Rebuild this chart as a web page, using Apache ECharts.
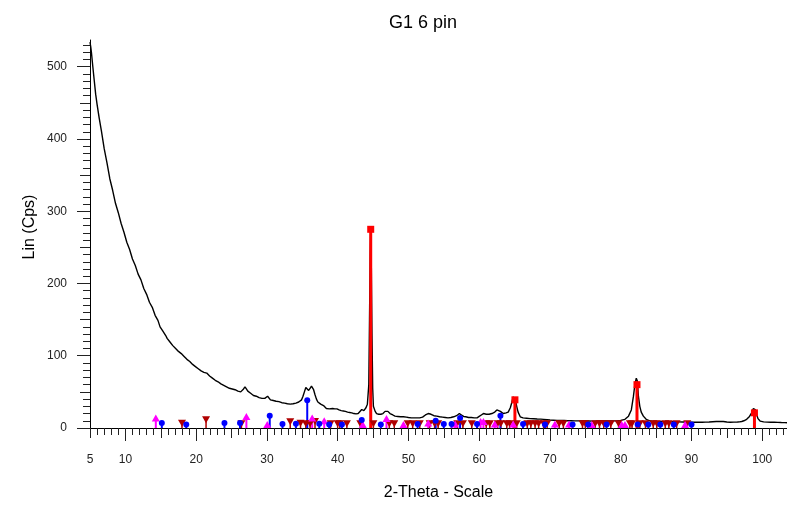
<!DOCTYPE html>
<html>
<head>
<meta charset="utf-8">
<script src="https://cdn.jsdelivr.net/npm/echarts@6/dist/echarts.min.js"></script>
<style>
  html, body { margin: 0; padding: 0; background: #fff; }
  #chart { width: 787px; height: 506px; }
</style>
</head>
<body>
<div id="chart"></div>
<script>
// Measured diffraction pattern: 2-theta (deg) and intensity (counts per second)
const theta = [
  5.0, 5.1, 5.2, 5.4, 5.6, 5.8, 6.0, 6.3, 6.6, 7.0, 7.4, 7.8, 8.2, 8.6, 9.0, 9.4, 9.8,
  10.2, 10.6, 11.0, 11.4, 11.8, 12.2, 12.6, 13.0, 13.4, 13.8, 14.2, 14.6, 14.9, 15.1, 15.3,
  15.5, 15.7, 15.9, 16.1, 16.3, 16.5, 16.7, 16.9, 17.1, 17.3, 17.5, 17.7, 17.9, 18.1, 18.3,
  18.5, 18.7, 18.9, 19.1, 19.3, 19.5, 19.7, 19.9, 20.1, 20.3, 20.5, 20.7, 20.9, 21.1, 21.3,
  21.5, 21.7, 21.9, 22.1, 22.3, 22.5, 22.7, 22.9, 23.1, 23.3, 23.5, 23.7, 23.9, 24.1, 24.3,
  24.5, 24.7, 24.9, 25.1, 25.3, 25.5, 25.7, 25.9, 26.1, 26.3, 26.5, 26.7, 26.9, 27.1, 27.3,
  27.5, 27.7, 27.9, 28.1, 28.3, 28.5, 28.7, 28.9, 29.1, 29.3, 29.5, 29.7, 29.9, 30.1, 30.3,
  30.5, 30.7, 30.9, 31.1, 31.3, 31.5, 31.7, 31.9, 32.1, 32.3, 32.5, 32.7, 32.9, 33.1, 33.3,
  33.5, 33.7, 33.9, 34.1, 34.3, 34.5, 34.7, 34.9, 35.1, 35.3, 35.5, 35.7, 35.9, 36.1, 36.3,
  36.4, 36.6, 36.8, 37.0, 37.2, 37.4, 37.6, 37.8, 38.0, 38.2, 38.4, 38.6, 38.8, 39.0, 39.3,
  39.6, 39.9, 40.2, 40.5, 40.8, 41.1, 41.4, 41.7, 42.0, 42.3, 42.6, 42.9, 43.1, 43.4, 43.7,
  44.0, 44.2, 44.4, 44.5, 44.6, 44.67, 44.75, 44.85, 44.95, 45.05, 45.3, 45.5, 45.8, 46.1,
  46.4, 46.7, 46.9, 47.1, 47.4, 47.8, 48.1, 48.5, 48.9, 49.3, 49.7, 50.0, 50.4, 50.8, 51.2,
  51.6, 52.0, 52.4, 52.8, 53.2, 53.6, 54.0, 54.4, 54.8, 55.2, 55.6, 56.0, 56.4, 56.8, 57.0,
  57.2, 57.5, 57.8, 58.1, 58.5, 58.9, 59.3, 59.7, 60.0, 60.3, 60.6, 61.0, 61.4, 61.8, 62.2,
  62.5, 62.7, 63.0, 63.4, 63.8, 64.1, 64.4, 64.6, 64.8, 64.9, 65.05, 65.2, 65.3, 65.5, 65.8,
  66.2, 66.7, 67.2, 67.7, 68.2, 68.7, 69.1, 69.6, 70.0, 70.5, 71.0, 71.5, 72.0, 72.5, 73.0,
  73.5, 74.0, 74.5, 75.0, 75.5, 76.0, 76.5, 77.0, 77.5, 78.0, 78.5, 79.0, 79.4, 80.0, 80.6,
  81.1, 81.5, 81.8, 82.0, 82.2, 82.35, 82.5, 82.7, 82.9, 83.2, 83.6, 84.2, 84.7, 85.2, 85.7,
  86.2, 86.7, 87.2, 87.7, 88.2, 88.7, 89.2, 89.7, 90.3, 90.9, 91.5, 92.0, 92.5, 93.0, 93.5,
  94.0, 94.5, 95.0, 95.5, 96.0, 96.5, 96.8, 97.1, 97.4, 97.8, 98.2, 98.5, 98.75, 98.9, 99.05,
  99.2, 99.4, 99.7, 100.2, 100.7, 101.2, 101.7, 102.2, 102.7, 103.2, 103.5
];
const counts = [
  534, 528, 520, 500, 481, 462, 448, 429, 412, 387, 367, 345, 329, 311, 298, 283, 271,
  257, 247, 234, 225, 213, 205, 193, 185, 174, 167, 156, 149, 140, 138, 134,
  131, 128, 124, 122, 119, 118, 114, 113, 110, 110, 106, 105, 103, 102, 99,
  98, 95, 94, 92, 90, 88, 86, 85, 83, 82, 80, 79, 78, 77, 79,
  76, 74, 72, 71, 69, 67, 66, 64, 64, 62, 61, 60, 59, 58, 57,
  57, 55, 55, 54, 53, 53, 52, 51, 51, 50, 52, 54, 57, 54, 51,
  49, 48, 46, 45, 45, 44, 43, 42, 42, 41, 41.5, 41, 42, 44, 43,
  39, 38, 38, 37, 37, 36, 36.5, 36, 35, 34, 34.5, 33.5, 33.5, 33, 33,
  34, 33.5, 34, 34.5, 35, 36, 37, 39, 44, 50, 56, 54, 52, 55, 58,
  60, 53, 46, 40, 36, 34, 33, 32, 31, 29, 27, 26, 26.5, 26, 27,
  26.5, 26.5, 25, 24, 23.5, 23, 22, 21.5, 21, 20, 19.6, 20, 22, 25.6, 24,
  28, 33, 60, 150, 240, 275, 230, 130, 55, 30, 23, 20, 19, 19,
  20, 23, 25.6, 23, 20, 18, 16.4, 16, 15.5, 15.5, 15, 14.5, 14, 14, 14,
  14, 15, 18, 20, 19, 17, 16.4, 15.5, 15, 14.5, 14, 14.5, 15.5, 17, 19,
  20, 18, 16, 15.5, 14.5, 14.5, 14, 14, 16, 18, 20, 19, 19, 20, 22,
  25, 25.6, 23, 20, 21, 22, 28, 35, 43, 45, 42, 35, 30, 22, 15.5,
  14, 13.5, 13, 12.8, 12.5, 12.3, 12, 11.5, 11, 10.8, 10.5, 10.5, 10.3, 10, 10,
  9.8, 9.8, 9.6, 9.6, 9.6, 9.5, 9.4, 9.6, 9.6, 9.6, 9.7, 9.8, 9.8, 10.5, 12,
  16.4, 25, 44, 60, 69, 65, 44, 30, 22, 16.4, 12, 9.6, 9.2, 9, 8.9,
  8.8, 8.7, 8.6, 8.5, 8.5, 8.4, 8.3, 8.2, 8, 8, 8, 8.2, 8.3, 8.7, 9,
  9.2, 9, 8.4, 8, 8.2, 8.3, 8.5, 9, 10, 12, 16, 21, 27, 28, 25,
  19, 13, 9.6, 8.5, 8.2, 8, 7.9, 7.8, 7.6, 7.5, 7.3
];

// Reference patterns: peak position (2-theta) and relative height
const phaseRedPos = [44.67, 65.05, 82.3, 98.9];
const phaseRedHeight = [275, 39, 60, 21];

const phaseBluePos = [15.15, 18.6, 24.0, 26.2, 30.4, 32.2, 34.1, 35.7, 37.4, 38.8, 40.6, 43.4,
  46.1, 51.3, 53.85, 55.0, 56.1, 57.3, 59.7, 63.0, 66.2, 69.3, 73.2, 75.4, 78.0, 82.4,
  83.9, 85.6, 87.5, 90.0];
const phaseBlueHeight = [7, 5, 7, 7, 17, 5.5, 6, 38.5, 6, 5, 5, 11,
  5, 5.5, 10, 5.5, 5.5, 13.7, 5.5, 17, 5.5, 5, 5, 5, 5, 5,
  5, 5, 5, 5];

const phaseMagentaPos = [14.3, 27.1, 30.05, 36.4, 38.1, 43.55, 46.9, 49.3, 52.8, 56.6, 60.2,
  60.6, 62.2, 64.8, 70.7, 72.7, 75.9, 80.15, 80.6, 89.1];
const phaseMagentaHeight = [14, 16, 5, 14, 10, 5, 13, 5, 7, 5.5, 9,
  9, 5.5, 5.5, 5.5, 5.5, 5, 5, 5, 5];

const phaseDarkRedPos = [18.0, 21.4, 26.4, 33.3, 34.75, 35.5, 36.1, 36.8, 39.0, 40.0, 40.3, 41.3,
  43.2, 45.05, 47.3, 48.0, 49.9, 50.6, 51.6, 53.0, 53.7, 54.2, 56.9, 57.7, 58.95, 61.0,
  61.5, 62.6, 63.05, 63.9, 64.3, 65.3, 66.8, 67.3, 67.9, 68.4, 69.1, 69.6, 71.3, 71.9,
  74.6, 75.0, 76.4, 77.0, 77.6, 78.6, 79.7, 81.3, 81.6, 82.7, 83.5, 84.6, 85.1, 86.3,
  86.8, 87.9, 89.4];
const phaseDarkRedHeight = [6.5, 11.5, 6, 8.5, 6.5, 6, 6, 9, 6, 6, 6, 6,
  6, 6, 6, 6, 6, 6, 6, 6, 6, 6, 6, 6, 6, 6,
  6, 6, 6, 6, 6, 6, 6, 6, 6, 6, 6, 6, 6, 6,
  6, 6, 6, 6, 6, 6, 6, 6, 6, 6, 6, 6, 6, 6,
  6, 6, 6];

// Axis labels
const xLabelValues = [5, 10, 20, 30, 40, 50, 60, 70, 80, 90, 100];
const yLabelValues = [0, 100, 200, 300, 400, 500];

const X_MIN = 5, X_MAX = 103.5, Y_MIN = 0, Y_MAX = 537;
const FONT = 'Liberation Sans, Arial, sans-serif';

function range(from, to, step, skipEvery) {
  const out = [];
  for (let v = from; v <= to + 1e-9; v += step) {
    const r = Math.round(v * 1000) / 1000;
    if (skipEvery && Math.abs(r / skipEvery - Math.round(r / skipEvery)) < 1e-9) continue;
    out.push(r);
  }
  return out;
}

// Tick positions: long at tens/hundreds, medium at fives/fifties, short otherwise
const xLong = range(10, 100, 10);
const xMid = range(5, 95, 10);
const xShort = range(6, 103, 1, 5);
const yLong = range(0, 500, 100);
const yMid = range(50, 450, 100);
const yShort = range(10, 530, 10, 50);

const pair = (a, b) => a.map((v, i) => [v, b[i]]);

function hiddenX(ticks, len) {
  return {
    type: 'value', min: X_MIN, max: X_MAX, position: 'bottom', gridIndex: 0,
    axisLine: { show: false }, splitLine: { show: false }, axisLabel: { show: false },
    axisTick: { show: true, customValues: ticks, length: len, lineStyle: { color: '#222', width: 1 } }
  };
}
function hiddenY(ticks, len) {
  return {
    type: 'value', min: Y_MIN, max: Y_MAX, position: 'left', gridIndex: 0,
    axisLine: { show: false }, splitLine: { show: false }, axisLabel: { show: false },
    axisTick: { show: true, customValues: ticks, length: len, lineStyle: { color: '#222', width: 1 } }
  };
}

function stems(data, color, width) {
  return {
    type: 'custom',
    coordinateSystem: 'cartesian2d',
    xAxisIndex: 0, yAxisIndex: 0,
    data: data,
    z: 3,
    renderItem: function (params, api) {
      const p0 = api.coord([api.value(0), 0]);
      const p1 = api.coord([api.value(0), api.value(1)]);
      return {
        type: 'line',
        shape: { x1: p0[0], y1: p0[1], x2: p1[0], y2: p1[1] },
        style: { stroke: color, lineWidth: width }
      };
    }
  };
}
function heads(data, color, symbol, size, rotate) {
  return {
    type: 'scatter', xAxisIndex: 0, yAxisIndex: 0,
    data: data, symbol: symbol, symbolSize: size, symbolRotate: rotate || 0,
    itemStyle: { color: color, opacity: 1 }, z: 4, silent: true
  };
}

const chart = echarts.init(document.getElementById('chart'), null, { renderer: 'canvas' });

chart.setOption({
  animation: false,
  backgroundColor: '#ffffff',
  textStyle: { fontFamily: FONT },
  title: {
    text: 'G1 6 pin', left: 384, top: 9,
    textStyle: { fontSize: 18, fontWeight: 'normal', color: '#000', fontFamily: FONT }
  },
  grid: { left: 90, right: 0, top: 40, bottom: 74, containLabel: false },
  xAxis: [
    {
      type: 'value', min: X_MIN, max: X_MAX, position: 'bottom',
      name: '2-Theta - Scale', nameLocation: 'middle', nameGap: 57,
      nameTextStyle: { fontSize: 16, color: '#000', fontFamily: FONT },
      axisLine: { show: true, onZero: false, lineStyle: { color: '#000', width: 1.2 } },
      splitLine: { show: false },
      axisTick: { show: true, customValues: xLong, length: 13, lineStyle: { color: '#222', width: 1 } },
      axisLabel: { customValues: xLabelValues, margin: 26, fontSize: 12, color: '#222' }
    },
    hiddenX(xMid, 10),
    hiddenX(xShort, 7)
  ],
  yAxis: [
    {
      type: 'value', min: Y_MIN, max: Y_MAX, position: 'left',
      axisLine: { show: true, onZero: false, lineStyle: { color: '#000', width: 1 } },
      splitLine: { show: false },
      axisTick: { show: true, customValues: yLong, length: 13, lineStyle: { color: '#222', width: 1 } },
      axisLabel: { customValues: yLabelValues, margin: 23, fontSize: 12, color: '#222' }
    },
    hiddenY(yMid, 10),
    hiddenY(yShort, 7)
  ],
  graphic: [{
    type: 'text', x: 30, y: 227, rotation: Math.PI / 2,
    style: {
      text: 'Lin (Cps)', fontSize: 16, fill: '#000', align: 'center', verticalAlign: 'middle',
      fontFamily: FONT
    }
  }],
  series: [
    {
      type: 'line', xAxisIndex: 0, yAxisIndex: 0,
      data: pair(theta, counts), showSymbol: false, symbol: 'none',
      lineStyle: { color: '#000', width: 1.4 }, z: 2, silent: true
    },
    stems(pair(phaseDarkRedPos, phaseDarkRedHeight), '#b00000', 1.5),
    stems(pair(phaseMagentaPos, phaseMagentaHeight), '#ff00ff', 2),
    stems(pair(phaseBluePos, phaseBlueHeight), '#0000ff', 2),
    stems(pair(phaseRedPos, phaseRedHeight), '#ff0000', 3),
    heads(pair(phaseDarkRedPos, phaseDarkRedHeight), '#b00000', 'triangle', [8, 7], 180),
    heads(pair(phaseMagentaPos, phaseMagentaHeight), '#ff00ff', 'triangle', [8, 7]),
    heads(pair(phaseBluePos, phaseBlueHeight), '#0000ff', 'circle', 6),
    heads(pair(phaseRedPos, phaseRedHeight), '#ff0000', 'rect', 7)
  ]
});
</script>
</body>
</html>
